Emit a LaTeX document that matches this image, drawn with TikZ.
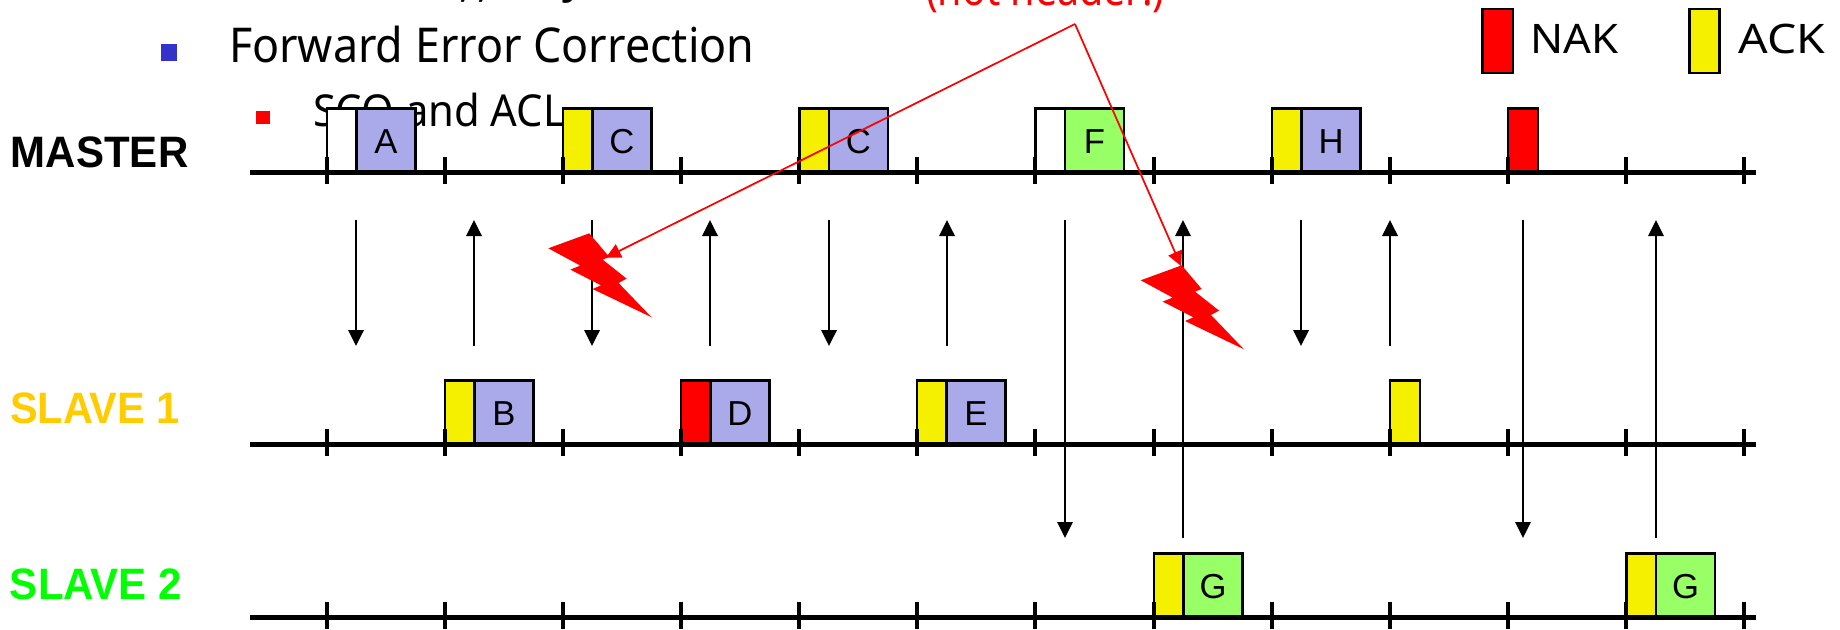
\documentclass[tikz,border=0pt]{standalone}
\usepackage{fontspec}
\usepackage{graphicx}
\setmainfont{Liberation Sans}
\newfontfamily\tah{Noto Sans}
\usetikzlibrary{arrows.meta}
\definecolor{ackyel}{HTML}{F5F000}
\definecolor{bodyblue}{HTML}{AAAAEA}
\definecolor{bodygreen}{HTML}{99FF66}
\definecolor{bulblue}{HTML}{3333CC}
\definecolor{s1col}{HTML}{FFCC00}
\definecolor{s2col}{HTML}{00FF00}
\tikzset{
  cell/.style={draw=black,line width=1.8pt,inner sep=0pt,outer sep=0pt,anchor=north west},
  lab/.style={inner sep=0pt,outer sep=0pt,anchor=base west},
  letter/.style={inner sep=0pt,outer sep=0pt,anchor=base,font=\fontsize{26}{26}\selectfont},
  axisline/.style={line width=3.4pt,black},
  tickmark/.style={line width=3.4pt,black},
  sig/.style={line width=1.8pt,black,-{Triangle[length=12pt,width=11.5pt]}},
  sigthin/.style={line width=1.4pt,black,-{Triangle[length=12pt,width=11.5pt]}},
  callout/.style={line width=1.3pt,red,-{Triangle[length=11pt,width=11pt]}},
  bolt/.style={fill=red,draw=none},
}
% name, x, ytop, header colour, header width, body colour, body width, letter
\newcommand{\pkt}[8]{%
  \node[cell,fill=#4,minimum width=#5*.75pt,minimum height=48pt] (#1h) at (#2,#3) {};
  \ifx&#6&\else
  \node[cell,fill=#6,minimum width=#7*.75pt,minimum height=48pt] (#1b) at (#2+#5,#3) {};
  \node[letter] (#1t) at (#2+#5+#7/2,#3+44.5) {#8};
  \fi}
\newcommand{\lightning}[2]{%
  \fill[bolt,shift={(#1,#2)}] (0,0) -- (41,-15) -- (61,8.7) -- (54.3,11.3) -- (78.3,30.3) -- (70.3,34.7)
    -- (103.3,69) -- (44.3,40.7) -- (52.7,37) -- (22,21.3) -- (32,17.3) -- cycle;}
\begin{document}
\begin{tikzpicture}[x=.75pt,y=-.75pt]
\useasboundingbox (0,0) rectangle (1840,629);
\clip (0,0) rectangle (1840,629);
% clipped text on top
\node[lab,anchor=base] (fa) at (466,-4) {\tah\fontsize{34}{34}\selectfont ,};
\node[lab,anchor=base] (fb) at (484,-4) {\tah\fontsize{34}{34}\selectfont ,};
\node[lab,anchor=base] (fc) at (574,-8) {\tah\fontsize{34}{34}\selectfont y};
\node[lab,text=red] (nh) at (926,5.5) {\resizebox{179pt}{\height}{\tah\fontsize{35}{35}\selectfont (not header!)}};
% bullets
\fill[bulblue] (161,44) rectangle (177,61);
\fill[red] (256,111) rectangle (269.5,124);
\node[lab] (fec) at (229,62) {\resizebox{394pt}{\height}{\tah\fontsize{36}{36}\selectfont Forward Error Correction}};
\node[lab] (sco) at (313,126) {\resizebox{189pt}{\height}{\tah\fontsize{33}{33}\selectfont SCO and ACL}};
% row labels
\node[lab] (lm) at (11,167) {\resizebox{133pt}{\height}{\bfseries\fontsize{33}{33}\selectfont MASTER}};
\node[lab,text=s1col] (ls1) at (10,423) {\resizebox{127.5pt}{\height}{\bfseries\fontsize{33}{33}\selectfont SLAVE 1}};
\node[lab,text=s2col] (ls2) at (10,599) {\resizebox{129pt}{\height}{\bfseries\fontsize{33}{33}\selectfont SLAVE 2}};
% legend
\node[cell,fill=red,minimum width=23pt,minimum height=48pt] (lgn) at (1482.5,9) {};
\node[cell,fill=ackyel,minimum width=22.5pt,minimum height=48pt] (lgy) at (1689.5,9) {};
\node[lab] (nak) at (1530.5,53) {\resizebox{66pt}{\height}{\tah\fontsize{30.5}{30.5}\selectfont NAK}};
\node[lab] (ack) at (1738.5,53) {\resizebox{65pt}{\height}{\tah\fontsize{30.5}{30.5}\selectfont ACK}};
% packets master
\pkt{a}{327}{108.5}{white}{29.5}{bodyblue}{59}{A}
\pkt{c}{563}{108.5}{ackyel}{29.5}{bodyblue}{59}{C}
\pkt{cc}{799.5}{108.5}{ackyel}{29.5}{bodyblue}{59}{C}
\pkt{f}{1035.5}{108.5}{white}{29.5}{bodygreen}{59}{F}
\pkt{h}{1272}{108.5}{ackyel}{29.5}{bodyblue}{59}{H}
\pkt{n}{1508}{108.5}{red}{30}{}{}{}
% slave 1
\pkt{b}{445}{380.5}{ackyel}{29.5}{bodyblue}{59}{B}
\pkt{d}{681}{380.5}{red}{29.5}{bodyblue}{59}{D}
\pkt{e}{917}{380.5}{ackyel}{29.5}{bodyblue}{59}{E}
\pkt{y}{1390}{380.5}{ackyel}{30}{}{}{}
% slave 2
\pkt{g}{1154}{553.5}{ackyel}{29.5}{bodygreen}{59}{G}
\pkt{gg}{1626.5}{553.5}{ackyel}{29.5}{bodygreen}{59}{G}
% axes
\foreach \r/\y in {m/172.5,s/444.5,t/617.5}{
  \coordinate (\r0) at (250,\y);
  \coordinate (\r1) at (1756,\y);
  \draw[axisline] (\r0) -- (\r1);
  \foreach \tx in {327,445,563,681,799,917,1035,1154,1272,1390,1508,1626,1744}
    \draw[tickmark] (\tx,\y-15.5) -- (\tx,\y+11.5);
}
% arrows
\foreach \i/\x/\ya/\yb in {1/356/220/346,2/474/346/220,3/592/220/346,4/710/346/220,5/829/220/346,6/947/346/220,9/1301/220/346,10/1390/346/220}{
  \coordinate (p\i) at (\x,\ya);
  \coordinate (q\i) at (\x,\yb);
  \draw[sig] (p\i) -- (q\i);
}
\foreach \i/\x/\ya/\yb in {7/1065/220/538,8/1183/538/220,11/1523/220/538,12/1656/538/220}{
  \coordinate (p\i) at (\x,\ya);
  \coordinate (q\i) at (\x,\yb);
  \draw[sigthin] (p\i) -- (q\i);
}
% lightning
\lightning{548.3}{248.3}
\lightning{1140.7}{280.3}
% callouts
\coordinate (apex) at (1075,24);
\coordinate (tip1) at (606,257.5);
\coordinate (tip2) at (1181,266);
\draw[callout] (apex) -- (tip1);
\draw[callout] (apex) -- (tip2);
\end{tikzpicture}
\end{document}
